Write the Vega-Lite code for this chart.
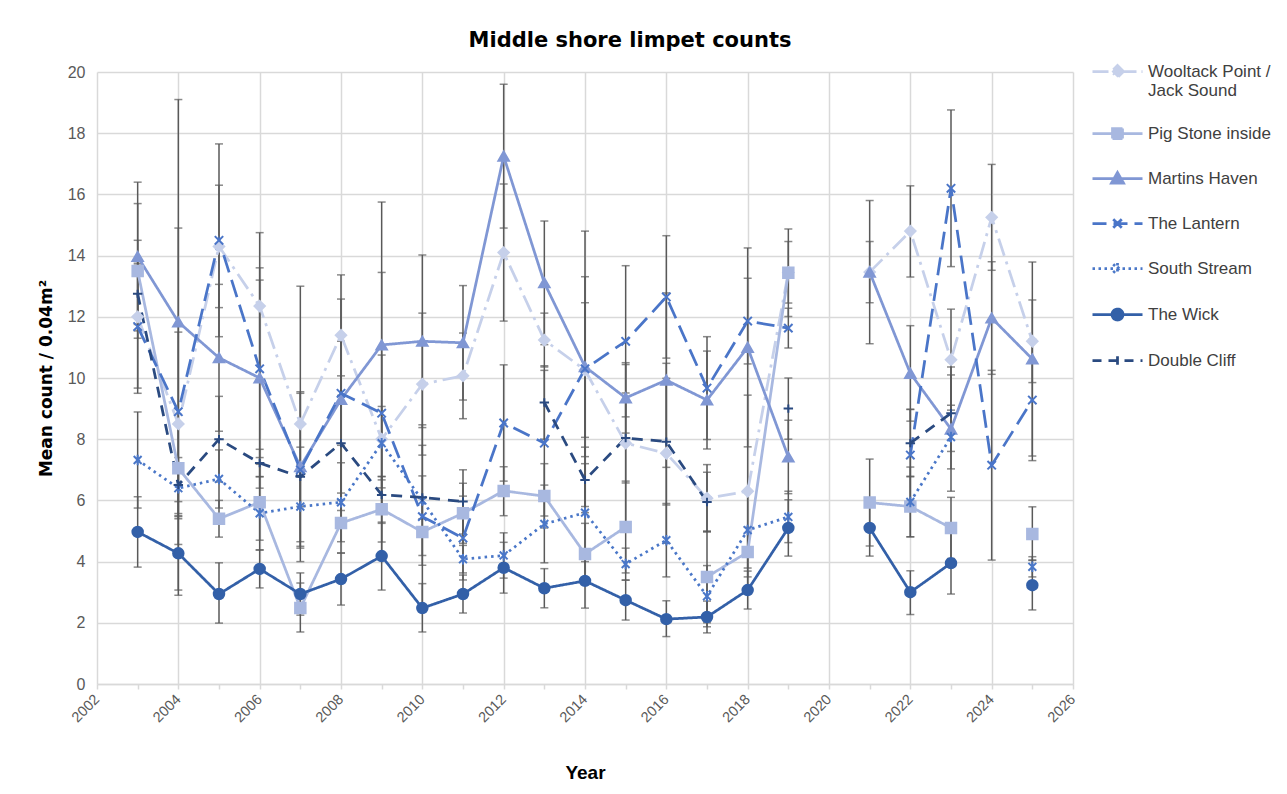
{
  "$schema": "https://vega.github.io/schema/vega-lite/v6.json",
  "width": 976,
  "height": 612,
  "autosize": {"type": "none"},
  "padding": {"left": 97, "top": 72, "right": 214, "bottom": 110},
  "background": "white",
  "title": {"text": "Middle shore limpet counts", "font": "DejaVu Sans", "fontSize": 21, "fontWeight": "bold", "color": "#000000", "anchor": "middle", "dx": 45, "offset": -6, "frame": "group"},
  "config": {"view": {"stroke": null}, "font": "Liberation Sans"},
  "datasets": {
    "d": [
      {"series": "Wooltack Point / Jack Sound", "year": 2003, "v": 12.0, "lo": 9.5, "hi": 14.5},
      {"series": "Wooltack Point / Jack Sound", "year": 2004, "v": 8.5, "lo": 5.5, "hi": 11.5},
      {"series": "Wooltack Point / Jack Sound", "year": 2005, "v": 14.3, "lo": 12.3, "hi": 16.3},
      {"series": "Wooltack Point / Jack Sound", "year": 2006, "v": 12.35, "lo": 9.95, "hi": 14.75},
      {"series": "Wooltack Point / Jack Sound", "year": 2007, "v": 8.5, "lo": 4.0, "hi": 13.0},
      {"series": "Wooltack Point / Jack Sound", "year": 2008, "v": 11.4, "lo": 9.43, "hi": 13.37},
      {"series": "Wooltack Point / Jack Sound", "year": 2009, "v": 8.0, "lo": 5.25, "hi": 10.75},
      {"series": "Wooltack Point / Jack Sound", "year": 2010, "v": 9.8, "lo": 7.48, "hi": 12.12},
      {"series": "Wooltack Point / Jack Sound", "year": 2011, "v": 10.07, "lo": 8.67, "hi": 11.47},
      {"series": "Wooltack Point / Jack Sound", "year": 2012, "v": 14.1, "lo": 11.86, "hi": 16.34},
      {"series": "Wooltack Point / Jack Sound", "year": 2013, "v": 11.24, "lo": 10.36, "hi": 12.12},
      {"series": "Wooltack Point / Jack Sound", "year": 2014, "v": 10.26, "lo": 8.06, "hi": 12.46},
      {"series": "Wooltack Point / Jack Sound", "year": 2015, "v": 7.87, "lo": 5.3, "hi": 10.44},
      {"series": "Wooltack Point / Jack Sound", "year": 2016, "v": 7.54, "lo": 4.6, "hi": 10.48},
      {"series": "Wooltack Point / Jack Sound", "year": 2017, "v": 6.07, "lo": 4.97, "hi": 7.17},
      {"series": "Wooltack Point / Jack Sound", "year": 2018, "v": 6.3, "lo": 3.16, "hi": 9.44},
      {"series": "Wooltack Point / Jack Sound", "year": 2019, "v": 13.45, "lo": 12.45, "hi": 14.46},
      {"series": "Wooltack Point / Jack Sound", "year": 2020, "v": null},
      {"series": "Wooltack Point / Jack Sound", "year": 2021, "v": 13.46, "lo": 12.46, "hi": 14.46},
      {"series": "Wooltack Point / Jack Sound", "year": 2022, "v": 14.8, "lo": 13.3, "hi": 16.28},
      {"series": "Wooltack Point / Jack Sound", "year": 2023, "v": 10.6, "lo": 8.95, "hi": 12.25},
      {"series": "Wooltack Point / Jack Sound", "year": 2024, "v": 15.25, "lo": 13.52, "hi": 16.98},
      {"series": "Wooltack Point / Jack Sound", "year": 2025, "v": 11.2, "lo": 9.85, "hi": 12.55},

      {"series": "Pig Stone inside", "year": 2003, "v": 13.5, "lo": 11.3, "hi": 15.7},
      {"series": "Pig Stone inside", "year": 2004, "v": 7.05, "lo": 5.57, "hi": 8.53},
      {"series": "Pig Stone inside", "year": 2005, "v": 5.4, "lo": 4.8, "hi": 6.0},
      {"series": "Pig Stone inside", "year": 2006, "v": 5.94, "lo": 4.7, "hi": 7.18},
      {"series": "Pig Stone inside", "year": 2007, "v": 2.48, "lo": 1.7, "hi": 3.3},
      {"series": "Pig Stone inside", "year": 2008, "v": 5.26, "lo": 4.28, "hi": 6.24},
      {"series": "Pig Stone inside", "year": 2009, "v": 5.71, "lo": 4.64, "hi": 6.78},
      {"series": "Pig Stone inside", "year": 2010, "v": 4.97, "lo": 3.88, "hi": 6.06},
      {"series": "Pig Stone inside", "year": 2011, "v": 5.58, "lo": 4.6, "hi": 6.56},
      {"series": "Pig Stone inside", "year": 2012, "v": 6.31, "lo": 5.5, "hi": 7.1},
      {"series": "Pig Stone inside", "year": 2013, "v": 6.14, "lo": 5.1, "hi": 7.2},
      {"series": "Pig Stone inside", "year": 2014, "v": 4.25, "lo": 3.25, "hi": 5.25},
      {"series": "Pig Stone inside", "year": 2015, "v": 5.13, "lo": 3.63, "hi": 6.63},
      {"series": "Pig Stone inside", "year": 2016, "v": null},
      {"series": "Pig Stone inside", "year": 2017, "v": 3.5, "lo": 2.0, "hi": 5.0},
      {"series": "Pig Stone inside", "year": 2018, "v": 4.31, "lo": 3.5, "hi": 5.12},
      {"series": "Pig Stone inside", "year": 2019, "v": 13.44, "lo": 12.01, "hi": 14.87},
      {"series": "Pig Stone inside", "year": 2020, "v": null},
      {"series": "Pig Stone inside", "year": 2021, "v": 5.93, "lo": 4.51, "hi": 7.35},
      {"series": "Pig Stone inside", "year": 2022, "v": 5.8, "lo": 4.81, "hi": 6.79},
      {"series": "Pig Stone inside", "year": 2023, "v": 5.1, "lo": 4.1, "hi": 6.1},
      {"series": "Pig Stone inside", "year": 2024, "v": null},
      {"series": "Pig Stone inside", "year": 2025, "v": 4.9, "lo": 4.05, "hi": 5.79},

      {"series": "Martins Haven", "year": 2003, "v": 13.97, "lo": 11.54, "hi": 16.4},
      {"series": "Martins Haven", "year": 2004, "v": 11.83, "lo": 4.56, "hi": 19.1},
      {"series": "Martins Haven", "year": 2005, "v": 10.66, "lo": 8.26, "hi": 13.06},
      {"series": "Martins Haven", "year": 2006, "v": 10.0, "lo": 6.4, "hi": 13.6},
      {"series": "Martins Haven", "year": 2007, "v": 7.1, "lo": 4.65, "hi": 9.55},
      {"series": "Martins Haven", "year": 2008, "v": 9.3, "lo": 6.02, "hi": 12.58},
      {"series": "Martins Haven", "year": 2009, "v": 11.08, "lo": 6.41, "hi": 15.75},
      {"series": "Martins Haven", "year": 2010, "v": 11.2, "lo": 8.38, "hi": 14.02},
      {"series": "Martins Haven", "year": 2011, "v": 11.15, "lo": 9.28, "hi": 13.02},
      {"series": "Martins Haven", "year": 2012, "v": 17.25, "lo": 14.9, "hi": 19.6},
      {"series": "Martins Haven", "year": 2013, "v": 13.11, "lo": 11.09, "hi": 15.13},
      {"series": "Martins Haven", "year": 2014, "v": 10.37, "lo": 7.43, "hi": 13.31},
      {"series": "Martins Haven", "year": 2015, "v": 9.35, "lo": 8.2, "hi": 10.5},
      {"series": "Martins Haven", "year": 2016, "v": 9.93, "lo": 7.08, "hi": 12.78},
      {"series": "Martins Haven", "year": 2017, "v": 9.28, "lo": 7.68, "hi": 10.88},
      {"series": "Martins Haven", "year": 2018, "v": 11.0, "lo": 7.75, "hi": 14.25},
      {"series": "Martins Haven", "year": 2019, "v": 7.42, "lo": 6.22, "hi": 8.62},
      {"series": "Martins Haven", "year": 2020, "v": null},
      {"series": "Martins Haven", "year": 2021, "v": 13.46, "lo": 11.12, "hi": 15.8},
      {"series": "Martins Haven", "year": 2022, "v": 10.15, "lo": 8.59, "hi": 11.71},
      {"series": "Martins Haven", "year": 2023, "v": 8.33, "lo": 6.3, "hi": 10.36},
      {"series": "Martins Haven", "year": 2024, "v": 11.96, "lo": 10.12, "hi": 13.8},
      {"series": "Martins Haven", "year": 2025, "v": 10.62, "lo": 7.45, "hi": 13.79},

      {"series": "The Lantern", "year": 2003, "v": 11.68, "lo": 9.67, "hi": 13.69},
      {"series": "The Lantern", "year": 2004, "v": 8.9, "lo": 2.9, "hi": 14.9},
      {"series": "The Lantern", "year": 2005, "v": 14.5, "lo": 11.35, "hi": 17.65},
      {"series": "The Lantern", "year": 2006, "v": 10.3, "lo": 7.4, "hi": 13.2},
      {"series": "The Lantern", "year": 2007, "v": 7.0, "lo": 4.5, "hi": 9.5},
      {"series": "The Lantern", "year": 2008, "v": 9.5, "lo": 7.8, "hi": 11.2},
      {"series": "The Lantern", "year": 2009, "v": 8.85, "lo": 4.25, "hi": 13.45},
      {"series": "The Lantern", "year": 2010, "v": 5.47, "lo": 2.47, "hi": 8.47},
      {"series": "The Lantern", "year": 2011, "v": 4.77, "lo": 3.4, "hi": 6.14},
      {"series": "The Lantern", "year": 2012, "v": 8.53, "lo": 6.63, "hi": 10.43},
      {"series": "The Lantern", "year": 2013, "v": 7.87, "lo": 5.49, "hi": 10.25},
      {"series": "The Lantern", "year": 2014, "v": 10.3, "lo": 5.8, "hi": 14.8},
      {"series": "The Lantern", "year": 2015, "v": 11.2, "lo": 8.73, "hi": 13.67},
      {"series": "The Lantern", "year": 2016, "v": 12.65, "lo": 10.65, "hi": 14.65},
      {"series": "The Lantern", "year": 2017, "v": 9.67, "lo": 7.99, "hi": 11.35},
      {"series": "The Lantern", "year": 2018, "v": 11.86, "lo": 10.46, "hi": 13.26},
      {"series": "The Lantern", "year": 2019, "v": 11.63, "lo": 10.98, "hi": 12.28},
      {"series": "The Lantern", "year": 2020, "v": null},
      {"series": "The Lantern", "year": 2021, "v": null},
      {"series": "The Lantern", "year": 2022, "v": 7.48, "lo": 5.98, "hi": 8.98},
      {"series": "The Lantern", "year": 2023, "v": 16.2, "lo": 13.64, "hi": 18.76},
      {"series": "The Lantern", "year": 2024, "v": 7.15, "lo": 4.05, "hi": 10.25},
      {"series": "The Lantern", "year": 2025, "v": 9.28, "lo": 7.3, "hi": 11.26},

      {"series": "South Stream", "year": 2003, "v": 7.32, "lo": 5.75, "hi": 8.89},
      {"series": "South Stream", "year": 2004, "v": 6.4, "lo": 5.4, "hi": 7.4},
      {"series": "South Stream", "year": 2005, "v": 6.7, "lo": 5.75, "hi": 7.65},
      {"series": "South Stream", "year": 2006, "v": 5.58, "lo": 4.38, "hi": 6.78},
      {"series": "South Stream", "year": 2007, "v": 5.8, "lo": 4.44, "hi": 7.16},
      {"series": "South Stream", "year": 2008, "v": 5.94, "lo": 4.65, "hi": 7.23},
      {"series": "South Stream", "year": 2009, "v": 7.87, "lo": 6.67, "hi": 9.07},
      {"series": "South Stream", "year": 2010, "v": 6.0, "lo": 4.2, "hi": 7.8},
      {"series": "South Stream", "year": 2011, "v": 4.08, "lo": 3.63, "hi": 4.53},
      {"series": "South Stream", "year": 2012, "v": 4.2, "lo": 3.46, "hi": 4.94},
      {"series": "South Stream", "year": 2013, "v": 5.23, "lo": 3.96, "hi": 6.5},
      {"series": "South Stream", "year": 2014, "v": 5.6, "lo": 4.0, "hi": 7.2},
      {"series": "South Stream", "year": 2015, "v": 3.92, "lo": 3.4, "hi": 4.44},
      {"series": "South Stream", "year": 2016, "v": 4.7, "lo": 3.5, "hi": 5.9},
      {"series": "South Stream", "year": 2017, "v": 2.87, "lo": 1.87, "hi": 3.87},
      {"series": "South Stream", "year": 2018, "v": 5.03, "lo": 3.79, "hi": 6.27},
      {"series": "South Stream", "year": 2019, "v": 5.46, "lo": 4.62, "hi": 6.3},
      {"series": "South Stream", "year": 2020, "v": null},
      {"series": "South Stream", "year": 2021, "v": null},
      {"series": "South Stream", "year": 2022, "v": 5.95, "lo": 4.81, "hi": 7.09},
      {"series": "South Stream", "year": 2023, "v": 8.07, "lo": 7.03, "hi": 9.11},
      {"series": "South Stream", "year": 2024, "v": null},
      {"series": "South Stream", "year": 2025, "v": 3.83, "lo": 3.5, "hi": 4.16},

      {"series": "The Wick", "year": 2003, "v": 4.97, "lo": 3.82, "hi": 6.12},
      {"series": "The Wick", "year": 2004, "v": 4.27, "lo": 3.07, "hi": 5.47},
      {"series": "The Wick", "year": 2005, "v": 2.94, "lo": 1.99, "hi": 3.96},
      {"series": "The Wick", "year": 2006, "v": 3.76, "lo": 3.14, "hi": 4.38},
      {"series": "The Wick", "year": 2007, "v": 2.94, "lo": 2.25, "hi": 3.63},
      {"series": "The Wick", "year": 2008, "v": 3.43, "lo": 2.58, "hi": 4.28},
      {"series": "The Wick", "year": 2009, "v": 4.18, "lo": 3.07, "hi": 5.29},
      {"series": "The Wick", "year": 2010, "v": 2.48, "lo": 1.7, "hi": 3.28},
      {"series": "The Wick", "year": 2011, "v": 2.94, "lo": 2.32, "hi": 3.56},
      {"series": "The Wick", "year": 2012, "v": 3.8, "lo": 2.97, "hi": 4.63},
      {"series": "The Wick", "year": 2013, "v": 3.13, "lo": 2.49, "hi": 3.77},
      {"series": "The Wick", "year": 2014, "v": 3.37, "lo": 2.48, "hi": 4.26},
      {"series": "The Wick", "year": 2015, "v": 2.74, "lo": 2.09, "hi": 3.39},
      {"series": "The Wick", "year": 2016, "v": 2.12, "lo": 1.55, "hi": 2.72},
      {"series": "The Wick", "year": 2017, "v": 2.19, "lo": 1.67, "hi": 2.71},
      {"series": "The Wick", "year": 2018, "v": 3.07, "lo": 2.45, "hi": 3.69},
      {"series": "The Wick", "year": 2019, "v": 5.1, "lo": 4.18, "hi": 6.02},
      {"series": "The Wick", "year": 2020, "v": null},
      {"series": "The Wick", "year": 2021, "v": 5.1, "lo": 4.18, "hi": 6.02},
      {"series": "The Wick", "year": 2022, "v": 3.0, "lo": 2.27, "hi": 3.7},
      {"series": "The Wick", "year": 2023, "v": 3.95, "lo": 2.94, "hi": 4.96},
      {"series": "The Wick", "year": 2024, "v": null},
      {"series": "The Wick", "year": 2025, "v": 3.23, "lo": 2.42, "hi": 4.04},

      {"series": "Double Cliff", "year": 2003, "v": 12.75, "lo": 11.75, "hi": 13.75},
      {"series": "Double Cliff", "year": 2004, "v": 6.5, "lo": 5.96, "hi": 7.04},
      {"series": "Double Cliff", "year": 2005, "v": 8.0, "lo": 6.6, "hi": 9.4},
      {"series": "Double Cliff", "year": 2006, "v": 7.22, "lo": 6.77, "hi": 7.67},
      {"series": "Double Cliff", "year": 2007, "v": 6.77, "lo": 5.8, "hi": 7.74},
      {"series": "Double Cliff", "year": 2008, "v": 7.87, "lo": 5.67, "hi": 10.07},
      {"series": "Double Cliff", "year": 2009, "v": 6.18, "lo": 5.58, "hi": 6.78},
      {"series": "Double Cliff", "year": 2010, "v": 6.1, "lo": 5.4, "hi": 6.8},
      {"series": "Double Cliff", "year": 2011, "v": 5.96, "lo": 4.9, "hi": 7.0},
      {"series": "Double Cliff", "year": 2012, "v": null},
      {"series": "Double Cliff", "year": 2013, "v": 9.2, "lo": 8.0, "hi": 10.4},
      {"series": "Double Cliff", "year": 2014, "v": 6.67, "lo": 5.6, "hi": 7.74},
      {"series": "Double Cliff", "year": 2015, "v": 8.04, "lo": 6.57, "hi": 9.51},
      {"series": "Double Cliff", "year": 2016, "v": 7.92, "lo": 5.85, "hi": 9.99},
      {"series": "Double Cliff", "year": 2017, "v": 5.95, "lo": 4.98, "hi": 6.92},
      {"series": "Double Cliff", "year": 2018, "v": null},
      {"series": "Double Cliff", "year": 2019, "v": 9.0, "lo": 8.0, "hi": 10.0},
      {"series": "Double Cliff", "year": 2020, "v": null},
      {"series": "Double Cliff", "year": 2021, "v": null},
      {"series": "Double Cliff", "year": 2022, "v": 7.87, "lo": 6.77, "hi": 8.97},
      {"series": "Double Cliff", "year": 2023, "v": 8.85, "lo": 7.6, "hi": 10.1},
      {"series": "Double Cliff", "year": 2024, "v": null},
      {"series": "Double Cliff", "year": 2025, "v": null}
    ]
  },
  "data": {"name": "d"},
  "encoding": {
    "x": {
      "field": "year", "type": "quantitative",
      "scale": {"domain": [2002, 2026], "nice": false, "zero": false},
      "title": "Year",
      "axis": {
        "values": [2002, 2003, 2004, 2005, 2006, 2007, 2008, 2009, 2010, 2011, 2012, 2013, 2014, 2015, 2016, 2017, 2018, 2019, 2020, 2021, 2022, 2023, 2024, 2025, 2026],
        "format": "d",
        "labelExpr": "datum.value % 2 === 0 ? datum.label : ''",
        "labelAngle": -45, "labelAlign": "right", "labelBaseline": "middle",
        "labelFont": "Liberation Sans", "labelFontSize": 14.5, "labelColor": "#595959", "labelPadding": 8,
        "labelOverlap": false, "labelFlush": false,
        "ticks": true, "tickSize": 5, "tickColor": "#d9d9d9", "tickWidth": 1.5,
        "domain": true, "domainColor": "#d9d9d9", "domainWidth": 1.5,
        "grid": true, "gridColor": "#d9d9d9", "gridWidth": 1.5,
        "gridOpacity": {"condition": {"test": "datum.value % 2 !== 0", "value": 0}, "value": 1},
        "titleFont": "Liberation Sans", "titleFontSize": 19, "titleFontWeight": "bold", "titleColor": "#000000", "titlePadding": 39
      }
    }
  },
  "layer": [
    {
      "mark": {"type": "rule", "color": "#595959", "strokeWidth": 1.5},
      "encoding": {
        "y": {
          "field": "lo", "type": "quantitative",
          "scale": {"domain": [0, 20], "nice": false, "zero": true},
          "title": "Mean count / 0.04m²",
          "axis": {
            "values": [0, 2, 4, 6, 8, 10, 12, 14, 16, 18, 20],
            "labelFont": "Liberation Sans", "labelFontSize": 16, "labelColor": "#595959", "labelPadding": 12,
            "ticks": false, "domain": false,
            "grid": true, "gridColor": "#d9d9d9", "gridWidth": 1.5,
            "titleFont": "DejaVu Sans", "titleFontSize": 17, "titleFontWeight": "bold", "titleColor": "#000000", "titlePadding": 12
          }
        },
        "y2": {"field": "hi"}
      }
    },
    {
      "mark": {"type": "tick", "orient": "horizontal", "color": "#595959", "size": 8, "thickness": 1.5},
      "encoding": {"y": {"field": "lo", "type": "quantitative", "title": "Mean count / 0.04m²"}}
    },
    {
      "mark": {"type": "tick", "orient": "horizontal", "color": "#595959", "size": 8, "thickness": 1.5},
      "encoding": {"y": {"field": "hi", "type": "quantitative", "title": "Mean count / 0.04m²"}}
    },
    {
      "mark": {"type": "line", "strokeWidth": 2.75, "invalid": "break-paths-show-domains"},
      "encoding": {
        "y": {"field": "v", "type": "quantitative", "title": "Mean count / 0.04m²"},
        "color": {
          "field": "series", "type": "nominal",
          "scale": {
            "domain": ["Wooltack Point / Jack Sound", "Pig Stone inside", "Martins Haven", "The Lantern", "South Stream", "The Wick", "Double Cliff"],
            "range": ["#c6d0ea", "#a8b8e0", "#8097d4", "#4a75c8", "#4a77c8", "#3360a8", "#2a4a80"]
          },
          "legend": {
            "title": null, "orient": "none", "legendX": 994, "legendY": -27, "padding": 0,
            "labelFont": "Liberation Sans", "labelFontSize": 17, "labelColor": "#404040", "labelLimit": 300, "labelOffset": 4,
            "labelExpr": "datum.label === 'Wooltack Point / Jack Sound' ? ['Wooltack Point /', 'Jack Sound'] : datum.label",
            "symbolSize": 2500, "symbolStrokeWidth": 2.75, "rowPadding": 8,
            "encode": {
              "symbols": {
                "update": {
                  "shape": {"signal": "datum.value === 'Wooltack Point / Jack Sound' ? 'M-1,0H1M0,-0.24L0.24,0L0,0.24L-0.24,0Z' : datum.value === 'Pig Stone inside' ? 'M-1,0H1M-0.2,-0.2H0.2V0.2H-0.2Z' : datum.value === 'Martins Haven' ? 'M-1,0H1M0,-0.24L0.24,0.18H-0.24Z' : datum.value === 'The Lantern' ? 'M-1,0H1M-0.17,-0.17L0.17,0.17M-0.17,0.17L0.17,-0.17' : datum.value === 'South Stream' ? 'M-1,0H1M-0.17,-0.17L0.17,0.17M-0.17,0.17L0.17,-0.17M0,-0.22V0.22' : datum.value === 'The Wick' ? 'M-1,0H1M-0.22,0A0.22,0.22 0 1,1 0.22,0A0.22,0.22 0 1,1 -0.22,0Z' : 'M-1,0H1M0,-0.17V0.17'"},
                  "size": {"value": 2500},
                  "fill": {"scale": "color", "field": "value"},
                  "stroke": {"scale": "color", "field": "value"},
                  "strokeWidth": {"value": 2.75},
                  "strokeDash": {"signal": "datum.value === 'Wooltack Point / Jack Sound' ? [16,5,2,5] : datum.value === 'The Lantern' ? [14,7] : datum.value === 'South Stream' ? [2.5,3.5] : datum.value === 'Double Cliff' ? [9,7] : [1,0]"},
                  "opacity": {"value": 1},
                  "fillOpacity": {"value": 1},
                  "strokeOpacity": {"value": 1}
                }
              }
            }
          }
        },
        "strokeDash": {
          "condition": [
            {"test": "datum.series === 'Wooltack Point / Jack Sound'", "value": [18, 6, 3, 6]},
            {"test": "datum.series === 'The Lantern'", "value": [18, 8]},
            {"test": "datum.series === 'South Stream'", "value": [2.5, 4]},
            {"test": "datum.series === 'Double Cliff'", "value": [11, 8]}
          ],
          "value": [1, 0]
        }
      }
    },
    {
      "mark": {"type": "point", "filled": true, "size": 110, "strokeWidth": 2, "opacity": 1},
      "encoding": {
        "y": {"field": "v", "type": "quantitative", "title": "Mean count / 0.04m²"},
        "color": {
          "field": "series", "type": "nominal",
          "scale": {
            "domain": ["Wooltack Point / Jack Sound", "Pig Stone inside", "Martins Haven", "The Lantern", "South Stream", "The Wick", "Double Cliff"],
            "range": ["#c6d0ea", "#a8b8e0", "#8097d4", "#4a75c8", "#4a77c8", "#3360a8", "#2a4a80"]
          },
          "legend": null
        },
        "stroke": {
          "field": "series", "type": "nominal",
          "scale": {
            "domain": ["Wooltack Point / Jack Sound", "Pig Stone inside", "Martins Haven", "The Lantern", "South Stream", "The Wick", "Double Cliff"],
            "range": ["#c6d0ea", "#a8b8e0", "#8097d4", "#4a75c8", "#4a77c8", "#3360a8", "#2a4a80"]
          },
          "legend": null
        },
        "shape": {
          "condition": [
            {"test": "datum.series === 'Wooltack Point / Jack Sound'", "value": "diamond"},
            {"test": "datum.series === 'Pig Stone inside'", "value": "square"},
            {"test": "datum.series === 'Martins Haven'", "value": "triangle-up"},
            {"test": "datum.series === 'The Lantern'", "value": "M-0.8,-0.8L0.8,0.8M-0.8,0.8L0.8,-0.8"},
            {"test": "datum.series === 'South Stream'", "value": "M-0.75,-0.75L0.75,0.75M-0.75,0.75L0.75,-0.75M0,-1L0,1"},
            {"test": "datum.series === 'The Wick'", "value": "circle"}
          ],
          "value": "M-0.9,0H0.9M0,-0.8V0.8"
        }
      }
    }
  ]
}
